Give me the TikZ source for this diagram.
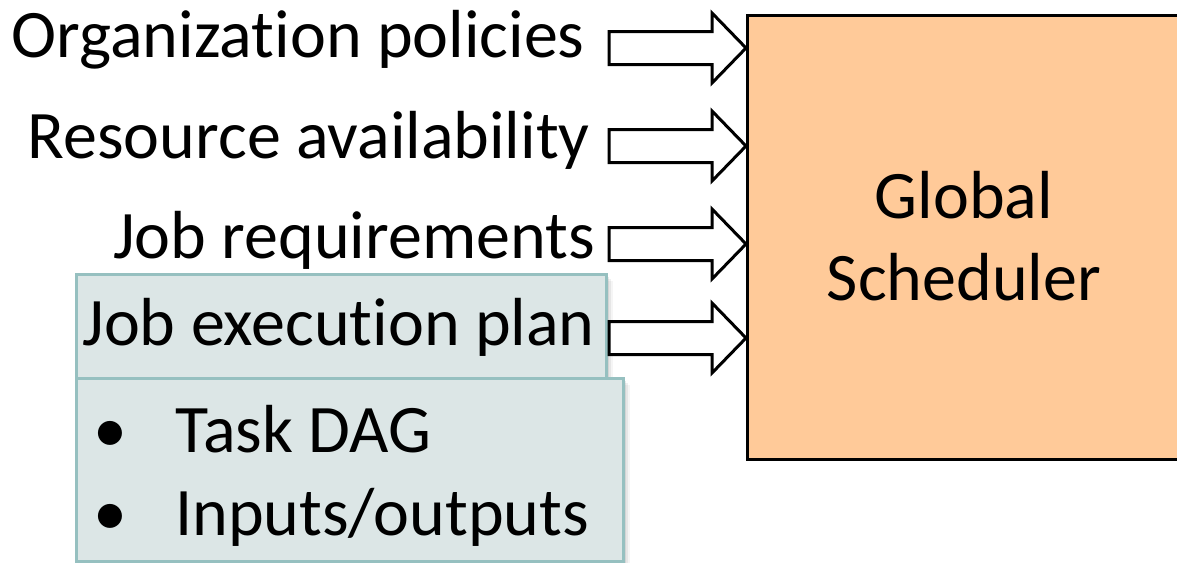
\documentclass[tikz,border=0pt]{standalone}
\usepackage{fontspec}
\setmainfont{Carlito}[Ligatures={NoCommon}]
\usetikzlibrary{calc}
\definecolor{peach}{RGB}{255,202,153}
\definecolor{tealfill}{RGB}{220,230,230}
\definecolor{tealline}{RGB}{150,192,192}
\tikzset{
  lbl/.style={inner sep=0pt, font=\fontsize{68}{80}\selectfont},
  schedbox/.style={draw=black, line width=3pt, fill=peach, rectangle, inner sep=0pt},
  tealbox/.style={draw=tealline, line width=2.5pt, fill=tealfill, rectangle, inner sep=0pt},
  blk/.style={draw=black, line width=3pt, fill=white, line join=miter},
}
\newcommand\blockarrow[1]{%
  \draw[blk, shift={(#1)}] (-137,-16.5) -- (-34,-16.5) -- (-34,-35) -- (0,0) -- (-34,35) -- (-34,16.5) -- (-137,16.5) -- cycle;}
\newcommand\softshadow[4]{%
  \foreach \d/\o in {2/0.10,4/0.08,6/0.06,8/0.04}{%
    \fill[black, opacity=\o] ($(#1,#2)+(\d,\d)$) rectangle ($(#3,#4)+(\d,\d)$);}}
\begin{document}
\begin{tikzpicture}[x=1pt,y=-1pt]
\clip (0,0) rectangle (1177,562);
\fill[white] (0,0) rectangle (1177,562);
% scheduler box
\node[schedbox, minimum width=440pt, minimum height=444pt, anchor=north west] (sched) at (746,14) {};
\node[lbl, align=center, font=\fontsize{68}{82}\selectfont] (schedtxt) at (964,236) {Global\\Scheduler};
% left labels
\node[lbl, anchor=base east] (op) at (585,57) {Organization policies};
\node[lbl, anchor=base east] (ra) at (590,158) {Resource availability};
\node[lbl, anchor=base east] (jr) at (595,258) {Job requirements};
% teal boxes
\softshadow{75}{273}{605}{377}
\node[tealbox, minimum width=530pt, minimum height=104pt, anchor=north west] (planbox) at (75,273) {};
\node[lbl, anchor=base east] (jep) at (595,345) {Job execution plan};
\softshadow{75}{377}{622}{560}
\node[tealbox, minimum width=547pt, minimum height=183pt, anchor=north west] (listbox) at (75,377) {};
\node[lbl, anchor=base] (b1) at (110,452) {\textbullet};
\node[lbl, anchor=base west] (dag) at (175,452) {Task DAG};
\node[lbl, anchor=base] (b2) at (110,535) {\textbullet};
\node[lbl, anchor=base west] (io) at (175,535) {Inputs/outputs};
% arrow tips on scheduler
\coordinate (t1) at ($(sched.north west)+(0,34)$);
\coordinate (t2) at ($(sched.north west)+(0,132)$);
\coordinate (t3) at ($(sched.north west)+(0,230)$);
\coordinate (t4) at ($(sched.north west)+(0,324)$);
\blockarrow{t1}
\blockarrow{t2}
\blockarrow{t3}
\blockarrow{t4}
\end{tikzpicture}
\end{document}
